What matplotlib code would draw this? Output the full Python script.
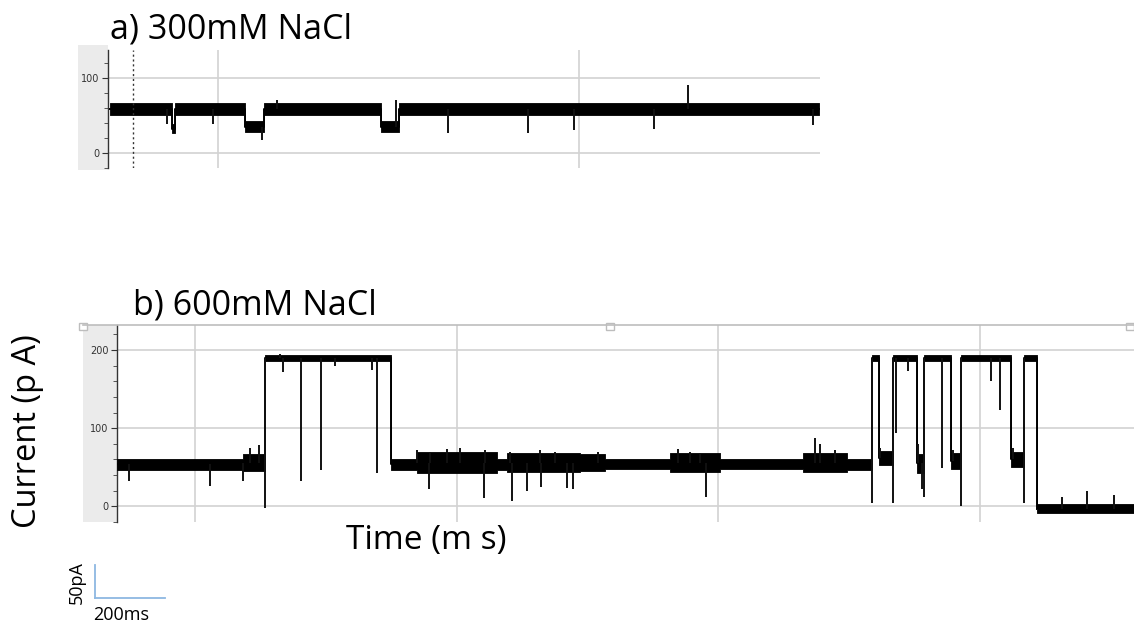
import numpy as np
import matplotlib
matplotlib.use("Agg")
import matplotlib.pyplot as plt
from matplotlib.patches import Rectangle
from matplotlib.lines import Line2D

# ---- data (time in ms, current in pA) ----
# panel a, 300 mM NaCl: piecewise levels + noise half-width
a_edges = [0, 177, 186, 386, 443, 777, 829, 2031]
a_levels = [59, 32, 59, 35, 59, 35, 59]
a_noise = [8, 6, 8, 7, 8, 7, 8]
a_spike_t = [163, 297, 437, 969, 1197, 1329, 1560, 1657, 2014, 480, 820]
a_spike_v = [38, 38, 17, 26, 27, 31, 32, 91, 37, 70, 70]
a_grid_t = [309, 1343]
a_marker_t = 66

# panel b, 600 mM NaCl
b_edges = [0, 360, 423, 783, 857, 1086, 1114, 1323, 1394, 1580, 1723, 1960,
           2086, 2157, 2177, 2217, 2286, 2306, 2383, 2411, 2554, 2591, 2629, 2906]
b_levels = [54, 56, 190, 54, 56, 54, 56, 56, 54, 56, 54, 56,
            54, 190, 62, 190, 55, 190, 58, 190, 60, 190, -3]
b_noise = [7, 11, 3.5, 7, 13, 7, 12, 11, 6, 12, 6, 12,
           7, 3.5, 9, 3.5, 12, 3.5, 10, 3.5, 10, 3.5, 6]
b_spike_t = [34, 266, 360, 423, 466, 474, 526, 583, 623, 729, 743, 891, 1049,
             1129, 1171, 1211, 1286, 1303, 1683, 1994, 2157, 2217, 2226, 2260,
             2300, 2306, 2357, 2411, 2497, 2523, 2591, 2629, 2771,
             # upward jags inside the noisy bursts
             380, 405, 857, 894, 943, 980, 1051, 1123, 1208, 1251, 1374,
             1603, 1637, 1666, 2009, 2052, 2180, 2290, 2390, 2560, 2700, 2850]
b_spike_v = [33, 26, 32, -2, 195, 172, 32, 47, 180, 175, 43, 22, 11,
             7, 20, 25, 23, 22, 12, 88, 4, 4, 94, 173,
             22, 12, 49, 0, 160, 123, 4, -5, 20,
             75, 78, 72, 70, 73, 75, 72, 70, 72, 70, 70,
             74, 70, 68, 80, 72, 75, 80, 72, 75, 12, 14]
b_grid_t = [223, 971, 1717, 2466]

W, H = 1134, 624
fig = plt.figure(figsize=(W / 100, H / 100), dpi=100)
fig.patch.set_facecolor("white")


def px_axes(x0, y0, x1, y1):
    # pixel box (top-left origin) -> figure axes
    return fig.add_axes([x0 / W, 1 - y1 / H, (x1 - x0) / W, (y1 - y0) / H])


def strip(x0, y0, x1, y1):
    fig.add_artist(Rectangle((x0 / W, 1 - y1 / H), (x1 - x0) / W, (y1 - y0) / H,
                             transform=fig.transFigure, facecolor="#ebebeb",
                             edgecolor="none", zorder=-1))


def draw_trace(ax, edges, levels, noise, st, sv):
    edges = np.asarray(edges, float)
    levels = np.asarray(levels, float)
    noise = np.asarray(noise, float)
    # one stepped band for the noise envelope
    lo = np.append(levels - noise, levels[-1] - noise[-1])
    hi = np.append(levels + noise, levels[-1] + noise[-1])
    ax.fill_between(edges, lo, hi, step="post", color="black", lw=0.6,
                    edgecolor="black", zorder=3)
    xs = np.repeat(edges, 2)[1:-1]
    ys = np.repeat(levels, 2)
    ax.plot(xs, ys, color="black", lw=1.4, zorder=3)
    idx = np.clip(np.searchsorted(edges, st, side="right") - 1, 0, len(levels) - 1)
    ax.vlines(st, levels[idx], sv, color="#111111", lw=1.4, zorder=3)


def style(ax, ylim, xlim, yticks, grid_t):
    ax.set_xlim(*xlim)
    ax.set_ylim(*ylim)
    ax.set_facecolor("white")
    for s in ["top", "right", "bottom"]:
        ax.spines[s].set_visible(False)
    ax.spines["left"].set_color("#333333")
    ax.spines["left"].set_linewidth(1.0)
    ax.set_xticks([])
    ax.set_yticks(yticks)
    ax.set_yticks(np.arange(-20, ylim[1], 20), minor=True)
    ax.tick_params(axis="y", which="major", length=4, width=0.8, color="#333333",
                   labelsize=7, labelcolor="#333333", pad=2)
    ax.tick_params(axis="y", which="minor", length=3, width=0.7, color="#555555")
    for y in yticks:
        ax.axhline(y, color="#d2d2d2", lw=1.2, zorder=1)
    for t in grid_t:
        ax.axvline(t, color="#d2d2d2", lw=1.2, zorder=1)


# panel a
strip(78, 45, 108, 170)
axa = px_axes(108, 50, 820, 168)
style(axa, (-8.5, 137), (-5, 2034), [0, 100], a_grid_t)
axa.axvline(a_marker_t, color="#333333", lw=1, ls=(0, (1.5, 2)), zorder=4)
draw_trace(axa, a_edges, a_levels, a_noise, a_spike_t, a_spike_v)

# panel b
strip(83, 325, 117, 522)
axb = px_axes(117, 325, 1134, 522)
style(axb, (-11, 232), (0, 2906), [0, 100, 200], b_grid_t)
draw_trace(axb, b_edges, b_levels, b_noise, b_spike_t, b_spike_v)
fig.add_artist(Line2D([83 / W, 1], [1 - 325 / H] * 2, transform=fig.transFigure,
                      color="#bdbdbd", lw=1.2))
for hx in [83, 610, 1130]:
    fig.add_artist(Rectangle(((hx - 4) / W, 1 - 330 / H), 8 / W, 7 / H,
                             transform=fig.transFigure, facecolor="white",
                             edgecolor="#bdbdbd", lw=1))

# texts
font = "Open Sans"
fig.text(110 / W, 1 - 39 / H, "a) 300mM NaCl", fontsize=24.5, family=font,
         ha="left", va="baseline")
fig.text(133 / W, 1 - 315 / H, "b) 600mM NaCl", fontsize=24.5, family=font,
         ha="left", va="baseline")
fig.text(28 / W, 1 - 431 / H, "Current (p A)", fontsize=23.5, family=font,
         rotation=90, ha="center", va="center")
fig.text(426 / W, 1 - 541 / H, "Time (m s)", fontsize=24, family=font,
         ha="center", va="center")

# scale bar
sb = "#8db8e2"
fig.add_artist(Line2D([95 / W, 95 / W], [1 - 565 / H, 1 - 598 / H],
                      transform=fig.transFigure, color=sb, lw=1.3))
fig.add_artist(Line2D([95 / W, 165 / W], [1 - 598 / H, 1 - 598 / H],
                      transform=fig.transFigure, color=sb, lw=1.3))
fig.text(77 / W, 1 - 583 / H, "50pA", fontsize=13, family=font, rotation=90,
         ha="center", va="center")
fig.text(121 / W, 1 - 615 / H, "200ms", fontsize=13, family=font,
         ha="center", va="center")

fig.savefig("out.png", dpi=100)
